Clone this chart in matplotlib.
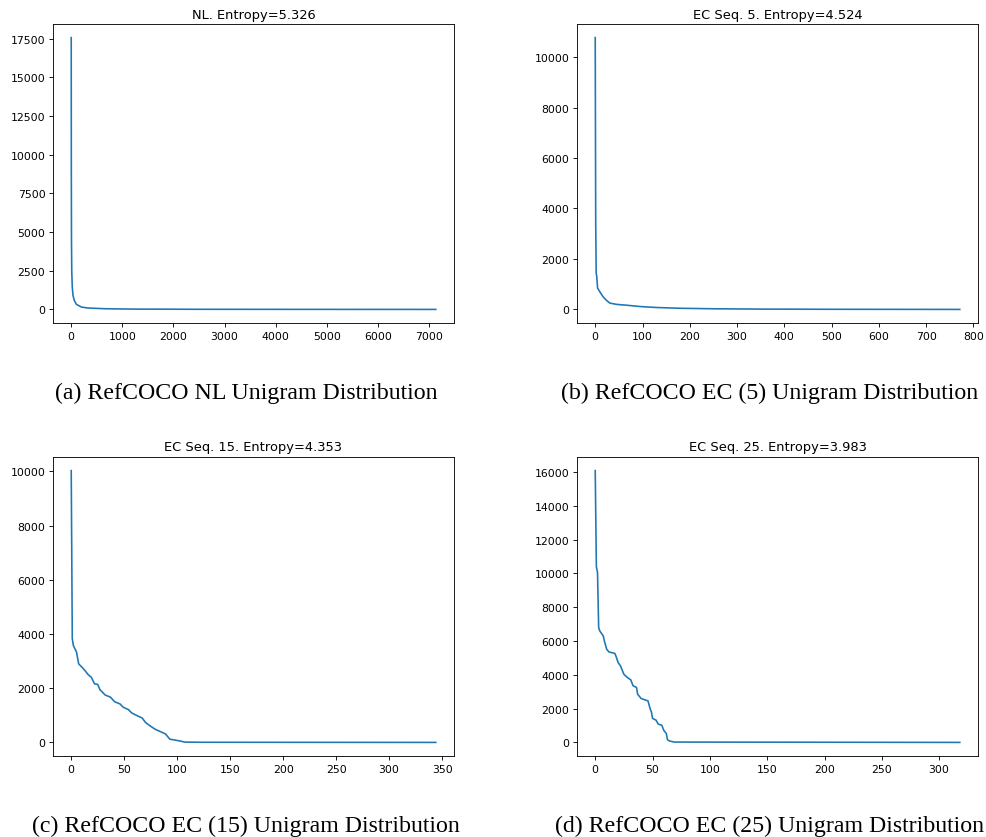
import matplotlib
matplotlib.use("Agg")
import matplotlib.pyplot as plt

# rank -> count
nl_rank = [0, 2, 5, 10, 20, 35, 60, 100, 200, 330, 650, 1200, 2500, 4500, 7130]
nl_count = [17580, 9000, 4500, 2500, 1500, 900, 580, 330, 150, 90, 45, 20, 8, 3, 0]

ec5_rank = [0, 1, 2, 3, 5, 10, 17, 24, 31, 45, 70, 94, 130, 180, 250, 350, 500, 771]
ec5_count = [10770, 3500, 1450, 1340, 845, 690, 490, 355, 250, 200, 160, 115, 75, 45, 25, 12, 5, 0]

ec15_rank = [0, 1, 2, 5, 7, 10, 13, 16, 19, 22, 25, 27, 32, 37, 41, 46, 49, 54, 57,
             62, 67, 70, 74, 79, 84, 89, 93, 98, 103, 107, 122, 344]
ec15_count = [10030, 3830, 3580, 3330, 2900, 2780, 2650, 2500, 2400, 2160, 2140, 1950,
              1750, 1670, 1500, 1420, 1300, 1210, 1090, 990, 900, 740, 620, 490, 400,
              310, 120, 85, 50, 12, 5, 0]

ec25_rank = [0, 1, 2, 3, 4, 7, 8, 10, 12, 17, 18, 20, 22, 25, 28, 31, 33, 36, 37, 40,
             44, 46, 48, 49, 50, 53, 55, 58, 60, 62, 63, 65, 69, 318]
ec25_count = [16080, 10400, 10040, 6790, 6590, 6300, 6000, 5510, 5350, 5270, 5120, 4720,
              4530, 4030, 3840, 3700, 3350, 3250, 2850, 2600, 2500, 2460, 1970, 1810,
              1420, 1320, 1080, 1020, 690, 530, 160, 80, 20, 0]

titles = ["NL. Entropy=5.326", "EC Seq. 5. Entropy=4.524",
          "EC Seq. 15. Entropy=4.353", "EC Seq. 25. Entropy=3.983"]
captions = ["(a) RefCOCO NL Unigram Distribution", "(b) RefCOCO EC (5) Unigram Distribution",
            "(c) RefCOCO EC (15) Unigram Distribution", "(d) RefCOCO EC (25) Unigram Distribution"]

DPI = 78
W, H = 986, 838
fig = plt.figure(figsize=(W / DPI, H / DPI), dpi=DPI)

series = [(nl_rank, nl_count), (ec5_rank, ec5_count),
          (ec15_rank, ec15_count), (ec25_rank, ec25_count)]

# axes boxes in pixels: (left, top, right, bottom)
boxes = [(53, 25, 454, 324), (577, 25, 978, 324),
         (53, 458, 454, 757), (577, 458, 978, 757)]
cap_pos = [(246, 393), (770, 393), (246, 826), (770, 826)]

for (xs, ys), (l, t, r, b), title, cap, (cx, cy) in zip(series, boxes, titles, captions, cap_pos):
    ax = fig.add_axes([l / W, 1 - b / H, (r - l) / W, (b - t) / H])
    ax.plot(xs, ys, color="#1f77b4", linewidth=1.5)
    ax.set_title(title, fontsize=12)
    fig.text(cx / W, 1 - cy / H, cap, ha="center", va="center",
             fontsize=22, family="Liberation Serif")

fig.savefig("out.png", dpi=DPI)
